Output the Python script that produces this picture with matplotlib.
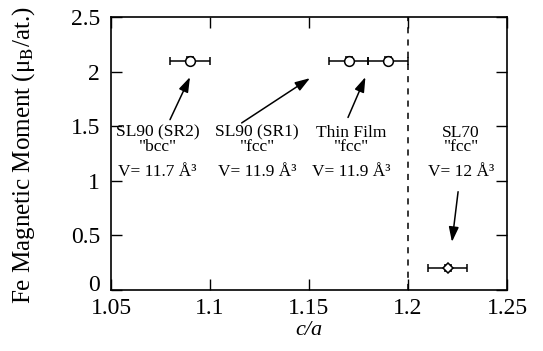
import matplotlib
matplotlib.use('Agg')
import matplotlib.pyplot as plt
import matplotlib.transforms as mtransforms

plt.rcParams['font.family'] = ['Liberation Serif', 'DejaVu Serif']
plt.rcParams['mathtext.fontset'] = 'stix'

# data
c_over_a = [1.09, 1.17, 1.19]
moment = [2.1, 2.1, 2.1]
x_err = [0.01, 0.01, 0.01]
y_err = [0.03, 0.03, 0.03]

sl70_x = [1.22]
sl70_y = [0.2]
sl70_xerr = [0.01]
sl70_yerr = [0.03]

labels = ['SL90 (SR2)\n"bcc"', 'SL90 (SR1)\n"fcc"', 'Thin Film\n"fcc"', 'SL70\n"fcc"']
volumes = ['V= 11.7 Å³', 'V= 11.9 Å³', 'V= 11.9 Å³', 'V= 12 Å³']
label_x = [1.0735, 1.1238, 1.1713, 1.2268]
label_y = 1.375
vol_y = 1.08
arrow_tail = [(1.0798, 1.56), (1.116, 1.53), (1.1697, 1.58), (1.2253, 0.90)]
arrow_head = [(1.0899, 1.95), (1.1505, 1.94), (1.1785, 1.95), (1.2222, 0.44)]

fig = plt.figure(figsize=(5.43, 3.51), dpi=100)
ax = fig.add_axes([111/543, 1 - 290/351, 396/543, 273/351])

ax.errorbar(c_over_a, moment, xerr=x_err, yerr=y_err, fmt='o', mfc='white',
            mec='black', color='black', ms=7, capsize=3, elinewidth=1.1, mew=1.1)
ax.errorbar(sl70_x, sl70_y, xerr=sl70_xerr, yerr=sl70_yerr, fmt='D', mfc='white',
            mec='black', color='black', ms=5, capsize=3, elinewidth=1.1, mew=1.1)

ax.axvline(1.2, color='black', ls=(0, (4, 4)), lw=1.1)

for i in range(len(labels)):
    ax.text(label_x[i], label_y, labels[i], ha='center', va='center',
            fontsize=12.5, linespacing=0.85)
    ax.text(label_x[i], vol_y, volumes[i], ha='center', va='center', fontsize=12.5)
    ax.annotate('', xy=arrow_head[i], xytext=arrow_tail[i],
                arrowprops=dict(arrowstyle='-|>,head_length=0.9,head_width=0.3',
                                color='black', lw=1.1, shrinkA=0, shrinkB=0))

ax.set_xlim(1.05, 1.25)
ax.set_ylim(0, 2.5)
ax.set_xticks([1.05, 1.1, 1.15, 1.2, 1.25])
ax.set_xticklabels(['1.05', '1.1', '1.15', '1.2', '1.25'])
ax.set_yticks([0, 0.5, 1, 1.5, 2, 2.5])
ax.set_yticklabels(['0', '0.5', '1', '1.5', '2', '2.5'])
ax.tick_params(direction='in', top=True, right=True, length=8, width=1,
               labelsize=17)
ax.tick_params(axis='x', pad=6)
ax.tick_params(axis='y', pad=8)
for s in ax.spines.values():
    s.set_linewidth(1.2)

# the "0" sits a little above the corner so it clears "1.05"
lbl0 = ax.get_yticklabels()[0]
lbl0.set_transform(lbl0.get_transform() +
                   mtransforms.ScaledTranslation(0, 5/72, fig.dpi_scale_trans))

ax.set_xlabel('c/a', fontsize=16, style='italic')
ax.xaxis.set_label_coords(0.5, (290 - 321) / 273)
ax.set_ylabel('Fe Magnetic Moment (μ$_\\mathrm{B}$/at.)', fontsize=18)
ax.yaxis.set_label_coords((37 - 111) / 396, 0.494)

fig.savefig('out.png', dpi=100)
